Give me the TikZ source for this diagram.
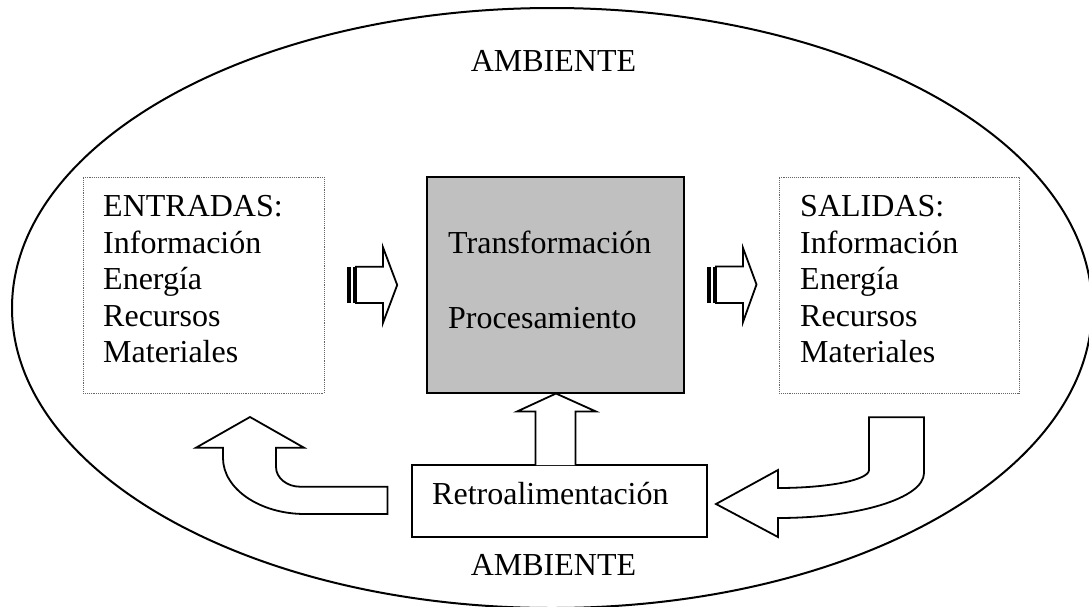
\documentclass[tikz,border=0pt]{standalone}
\usepackage{fontspec}
\setmainfont{Liberation Serif}
\begin{document}
\begin{tikzpicture}[x=1pt,y=-1pt,
  lbl/.style={font=\fontsize{32}{37}\selectfont, inner sep=0pt, anchor=base west},
  ctr/.style={font=\fontsize{32}{37}\selectfont, inner sep=0pt, anchor=base},
  dotbox/.style={draw=black!60, densely dotted, line width=0.9pt, inner sep=0pt},
  solidbox/.style={draw=black, line width=1.8pt, inner sep=0pt},
  blockarrow/.style={draw=black, line width=1.8pt, line join=miter, fill=white},
  stripe/.style={fill=black}]
\path[use as bounding box] (0,0) rectangle (1089,606);
\clip (0,0) rectangle (1089,606);
% environment ellipse
\draw[line width=2pt] (552,308) ellipse [x radius=540, y radius=300];
\node[ctr] (amb1) at (553.5,71.5) {AMBIENTE};
\node[ctr] (amb2) at (553.5,575) {AMBIENTE};
% boxes
\node[dotbox, minimum width=241pt, minimum height=216pt] (inbox) at (203.5,285) {};
\node[solidbox, fill={rgb,255:red,192;green,192;blue,192}, minimum width=257pt, minimum height=216pt] (proc) at (555.5,285) {};
\node[dotbox, minimum width=240pt, minimum height=216pt] (outbox) at (899,285) {};
\node[solidbox, fill=white, minimum width=295pt, minimum height=72pt] (retro) at (559.5,501) {};
% texts
\node[lbl] (in1) at (103,216.5) {ENTRADAS:};
\node[lbl] (in2) at (103,253.1) {Información};
\node[lbl] (in3) at (103,289.7) {Energía};
\node[lbl] (in4) at (103,326.3) {Recursos};
\node[lbl] (in5) at (103,362.9) {Materiales};
\node[lbl] (out1) at (800,216.5) {SALIDAS:};
\node[lbl] (out2) at (800,253.1) {Información};
\node[lbl] (out3) at (800,289.7) {Energía};
\node[lbl] (out4) at (800,326.3) {Recursos};
\node[lbl] (out5) at (800,362.9) {Materiales};
\node[lbl] (tr) at (448,253.2) {Transformación};
\node[lbl] (pr) at (448,328.6) {Procesamiento};
\node[lbl] (rt) at (432,504) {Retroalimentación};
% striped arrow: inputs -> process
\fill[stripe] (347,266.7) rectangle (351.3,303);
\fill[stripe] (352.5,266.7) rectangle (354.6,303);
\draw[blockarrow] (356,266.7) -- (383,266.7) -- (383,247.4) -- (397.2,285) -- (383,322.8) -- (383,303) -- (356,303) -- cycle;
% striped arrow: process -> outputs
\fill[stripe] (707,266.5) rectangle (711.3,303);
\fill[stripe] (712.5,266.5) rectangle (714.6,303);
\draw[blockarrow] (716,266.5) -- (743,266.5) -- (743,248) -- (756.5,284.5) -- (743,322) -- (743,303) -- (716,303) -- cycle;
% feedback -> process (up arrow)
\draw[blockarrow] (535.5,465) -- (535.5,411.5) -- (517,411.5) -- (556,393.5) -- (596,411.5) -- (575.5,411.5) -- (575.5,465);
% outputs -> feedback (curved arrow)
\draw[blockarrow] (869,417.3) -- (924,417.3) -- (924,473)
  .. controls (924,498) and (859,518) .. (778,518)
  -- (778,537) -- (716,504) -- (778,470) -- (778,488)
  .. controls (828,488) and (869,480) .. (869,470) -- cycle;
% feedback -> inputs (curved arrow)
\draw[blockarrow] (387.5,486.7) -- (300,486.7)
  .. controls (287,486.7) and (276,478) .. (276,467)
  -- (276,447.7) -- (304,447.7) -- (250,417) -- (196,447.7) -- (223,447.7) -- (223,458)
  .. controls (223,489) and (260,514) .. (305,514)
  -- (387.5,514) -- cycle;
\end{tikzpicture}
\end{document}
